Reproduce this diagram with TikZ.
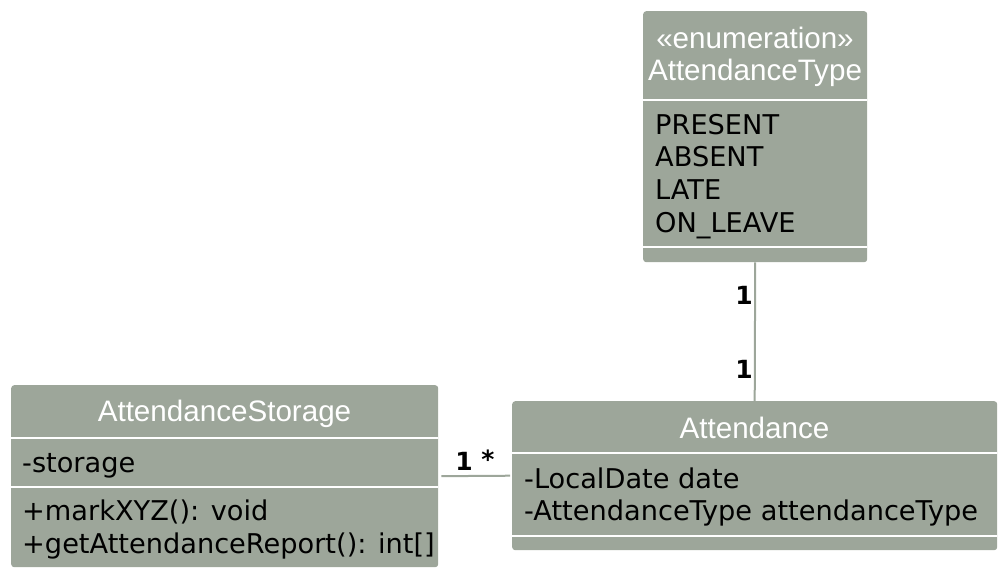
\documentclass[tikz,border=0pt]{standalone}
\usepackage{fontspec}
\setmainfont{DejaVu Sans}
\newfontfamily\titlefont{Liberation Sans}
\definecolor{boxfill}{RGB}{157,166,154}
\begin{document}
\begin{tikzpicture}[x=1pt,y=-1pt,
  classbox/.style={fill=boxfill, rounded corners=3pt, draw=none, inner sep=0pt, anchor=north west},
  sepline/.style={draw=white, line width=2pt},
  ttl/.style={font=\titlefont\fontsize{29.6}{34}\selectfont, text=white, inner sep=0pt, anchor=base},
  body/.style={font=\fontsize{27.2}{32}\selectfont, text=black, inner sep=0pt, anchor=base west},
  mult/.style={font=\bfseries\fontsize{25}{28}\selectfont, text=black, inner sep=0pt, anchor=base},
  assoc/.style={draw=boxfill, line width=2pt}]
\useasboundingbox (0,0) rectangle (1006,580);

% AttendanceType enumeration
\node[classbox, minimum width=224pt, minimum height=251pt] (enum) at (643,11) {};
\node[ttl] (enumst) at (755,49) {«enumeration»};
\node[ttl] (enumtitle) at (755,81) {AttendanceType};
\draw[sepline] (643,100) -- (867,100);
\node[body] (present) at (655,135) {PRESENT};
\node[body] (absent) at (655,167) {ABSENT};
\node[body] (late) at (655,200) {LATE};
\node[body] (onleave) at (655,232) {ON\_LEAVE};
\draw[sepline] (643,247) -- (867,247);

% AttendanceStorage
\node[classbox, minimum width=427pt, minimum height=182pt] (stor) at (11,385) {};
\node[ttl] (stortitle) at (224.5,421) {AttendanceStorage};
\draw[sepline] (11,438) -- (438,438);
\node[body] (storage) at (22,472) {-storage};
\draw[sepline] (11,487) -- (438,487);
\node[body] (mark) at (22,520) {+markXYZ(): void};
\node[body] (report) at (22,553) {+getAttendanceReport(): int[]};

% Attendance
\node[classbox, minimum width=485pt, minimum height=149pt] (att) at (512,401) {};
\node[ttl] (atttitle) at (754.5,438) {Attendance};
\draw[sepline] (512,453) -- (997,453);
\node[body] (date) at (524,488) {-LocalDate date};
\node[body] (atype) at (524,520) {-AttendanceType attendanceType};
\draw[sepline] (512,536) -- (997,536);

% associations
\draw[assoc] (enum.south) -- (att.north);
\draw[assoc, shorten <=3pt, shorten >=2pt] (stor.east) -- (att.west);

\node[mult] (m1) at (744,304) {1};
\node[mult] (m2) at (744,378) {1};
\node[mult] (m3) at (464,470) {1};
\node[mult] (m4) at (488,468) {*};
\end{tikzpicture}
\end{document}
